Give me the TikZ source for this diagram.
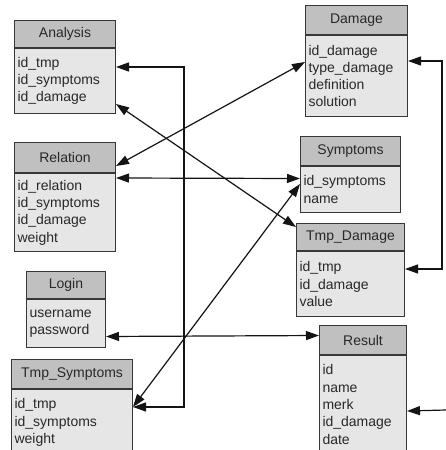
\documentclass[tikz,border=0pt]{standalone}
\usepackage{fontspec}
\setmainfont{Liberation Sans}
\usetikzlibrary{arrows.meta,calc}
\definecolor{hdfill}{RGB}{192,192,192}
\definecolor{bdfill}{RGB}{230,230,230}
\definecolor{edgec}{RGB}{55,55,55}
\definecolor{txt}{RGB}{40,40,40}
\begin{document}
\begin{tikzpicture}[x=1pt,y=-1pt,
  tbl/.style={draw=edgec, line width=1pt, anchor=north west, inner sep=0pt, text=txt},
  hd/.style={tbl, fill=hdfill, font=\fontsize{14}{17.3}\selectfont},
  bd/.style={tbl, fill=bdfill, align=left, inner xsep=3pt, font=\fontsize{14}{17.3}\selectfont},
  link/.style={draw=black!92, line width=1.2pt, {Triangle[length=13pt,width=9pt]}-{Triangle[length=13pt,width=9pt]}},
  onelink/.style={draw=black!92, line width=1.2pt, -{Triangle[length=13pt,width=9pt]}}]
\useasboundingbox (0,0) rectangle (446,450);
\clip (0,0) rectangle (446,450);
\fill[white] (0,0) rectangle (446,450);

% Analysis
\node[hd, minimum width=101pt, minimum height=27pt] (anaH) at (14,20) {Analysis};
\node[bd, text width=95pt, minimum height=65pt] (anaB) at (anaH.south west) {id\_tmp\\id\_symptoms\\id\_damage};
% Relation
\node[hd, minimum width=101pt, minimum height=30pt] (relH) at (14,142) {Relation};
\node[bd, text width=95pt, minimum height=78pt] (relB) at (relH.south west) {id\_relation\\id\_symptoms\\id\_damage\\weight};
% Login
\node[hd, minimum width=79pt, minimum height=27pt] (logH) at (26,271) {Login};
\node[bd, text width=73pt, minimum height=48pt] (logB) at (logH.south west) {username\\password};
% Tmp_Symptoms
\node[hd, minimum width=121pt, minimum height=29pt] (tsH) at (11,359) {Tmp\_Symptoms};
\node[bd, text width=115pt, minimum height=66pt] (tsB) at (tsH.south west) {id\_tmp\\id\_symptoms\\weight};
% Damage
\node[hd, minimum width=102pt, minimum height=29pt] (dmgH) at (305,5) {Damage};
\node[bd, text width=96pt, minimum height=81pt] (dmgB) at (dmgH.south west) {id\_damage\\type\_damage\\definition\\solution};
% Symptoms
\node[hd, minimum width=100pt, minimum height=29pt] (symH) at (300,136) {Symptoms};
\node[bd, text width=94pt, minimum height=46pt] (symB) at (symH.south west) {id\_symptoms\\name};
% Tmp_Damage
\node[hd, minimum width=108pt, minimum height=27pt] (tdH) at (296,223) {Tmp\_Damage};
\node[bd, text width=102pt, minimum height=65pt] (tdB) at (tdH.south west) {id\_tmp\\id\_damage\\value};
% Result
\node[hd, minimum width=87pt, minimum height=29pt] (resH) at (319,325) {Result};
\node[bd, text width=81pt, minimum height=98pt] (resB) at (resH.south west) {id\\name\\merk\\id\_damage\\date};

\coordinate (resIn) at (446,410);

% connectors
\draw[link] ([yshift=-19pt]anaB.north east) -- ++(68,0) |- ([yshift=-18pt]tsB.north east);
\draw[link] ([yshift=-26pt]dmgB.north east) -- ++(34,0) |- ([yshift=-18pt]tdB.north east);
\draw[onelink] (resIn) -- ([yshift=-56pt]resB.north east);
\draw[link] ([yshift=-37.5pt]logB.north east) -- ([yshift=-10.5pt]resH.north west);
\draw[link] ([yshift=-5pt]relB.north east) -- ([yshift=-12.5pt]symB.north west);
\draw[link] ([yshift=-24pt]relH.north east) -- ([yshift=-27pt]dmgB.north west);
\draw[link] ([yshift=-56pt]anaB.north east) -- ([yshift=-4pt]tdH.north west);
\draw[link] ([yshift=-18pt]tsB.north east) -- ([yshift=-18pt]symB.north west);
\end{tikzpicture}
\end{document}
